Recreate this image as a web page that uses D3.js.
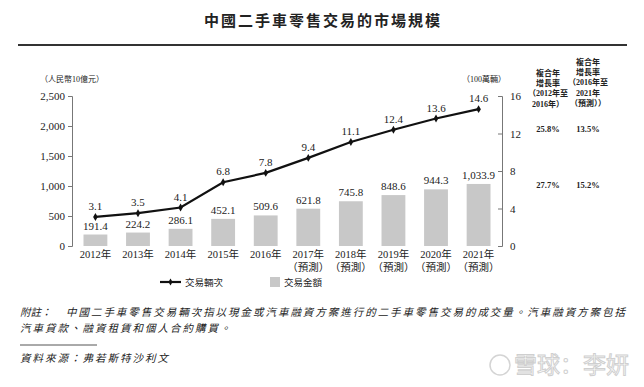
<!DOCTYPE html>
<html>
<head>
<meta charset="utf-8">
<script src="https://cdn.jsdelivr.net/npm/d3@7"></script>
<style>
  body { margin: 0; background: #fff; }
  svg text { font-family: "Liberation Serif", "Noto Sans CJK TC", serif; fill: #222; }
</style>
</head>
<body>
<svg id="chart" width="644" height="387"></svg>
<script>
// data
const years = ['2012年','2013年','2014年','2015年','2016年','2017年','2018年','2019年','2020年','2021年'];
const forecast = [false,false,false,false,false,true,true,true,true,true];
const amounts = [191.4,224.2,286.1,452.1,509.6,621.8,745.8,848.6,944.3,1033.9];
const volumes = [3.1,3.5,4.1,6.8,7.8,9.4,11.1,12.4,13.6,14.6];
const leftTicks = [0,500,1000,1500,2000,2500];
const rightTicks = [0,4,8,12,16];
const cagrHead1 = ['複合年','增長率','（2012年至','2016年）'];
const cagrHead2 = ['複合年','增長率','（2016年至','2021年','（預測））'];
const cagrVolume = ['25.8%','13.5%'];
const cagrAmount = ['27.7%','15.2%'];

const svg = d3.select('#chart');

// title + rule
svg.append('text')
  .attr('x', 323).attr('y', 26)
  .attr('text-anchor', 'middle')
  .style('font-family', '"Noto Sans CJK TC", serif')
  .style('font-size', '15px').style('font-weight', 'bold')
  .style('letter-spacing', '2px')
  .text('中國二手車零售交易的市場規模');
svg.append('line')
  .attr('x1', 18).attr('x2', 627).attr('y1', 45).attr('y2', 45)
  .attr('stroke', '#333').attr('stroke-width', 2);

// scales
const x = d3.scaleBand().domain(years).range([72, 502]).paddingInner(0.44).paddingOuter(0.27);
const yL = d3.scaleLinear().domain([0, 2500]).range([246, 96]);
const yR = d3.scaleLinear().domain([0, 16]).range([246, 96]);

// axes
const leftAxis = svg.append('g')
  .attr('transform', 'translate(72,0)')
  .call(d3.axisLeft(yL).tickValues(leftTicks).tickSize(4).tickPadding(3).tickFormat(d3.format(',')));
const rightAxis = svg.append('g')
  .attr('transform', 'translate(502,0)')
  .call(d3.axisRight(yR).tickValues(rightTicks).tickSize(-4).tickPadding(8));
[leftAxis, rightAxis].forEach(a => {
  a.select('.domain').attr('stroke', '#777');
  a.selectAll('.tick line').attr('stroke', '#777');
  a.selectAll('.tick text').style('font-size', '11px').attr('fill', '#222');
});

svg.append('text').attr('x', 40).attr('y', 82)
  .style('font-size', '8px').text('（人民幣10億元）');
svg.append('text').attr('x', 462).attr('y', 82)
  .style('font-size', '8px').text('（100萬輛）');

// bars
svg.append('g').selectAll('rect')
  .data(amounts).join('rect')
  .attr('x', (d, i) => x(years[i]))
  .attr('width', x.bandwidth())
  .attr('y', d => yL(d))
  .attr('height', d => yL(0) - yL(d))
  .attr('fill', '#c8c8c8');

svg.append('g').selectAll('text')
  .data(amounts).join('text')
  .attr('x', (d, i) => x(years[i]) + x.bandwidth() / 2)
  .attr('y', d => yL(d) - 5)
  .attr('text-anchor', 'middle')
  .style('font-size', '11px')
  .text(d => d3.format(',.1f')(d));

// line
const cx = i => x(years[i]) + x.bandwidth() / 2;
const line = d3.line().x((d, i) => cx(i)).y(d => yR(d));
svg.append('path')
  .datum(volumes)
  .attr('d', line)
  .attr('fill', 'none')
  .attr('stroke', '#111')
  .attr('stroke-width', 2.2);
svg.append('g').selectAll('path')
  .data(volumes).join('path')
  .attr('transform', (d, i) => `translate(${cx(i)},${yR(d)})`)
  .attr('d', d3.symbol(d3.symbolDiamond, 18))
  .attr('fill', '#111');
svg.append('g').selectAll('text')
  .data(volumes).join('text')
  .attr('x', (d, i) => cx(i))
  .attr('y', d => yR(d) - 7)
  .attr('text-anchor', 'middle')
  .style('font-size', '11px')
  .text(d => d3.format('.1f')(d));

// x labels
const xl = svg.append('g').selectAll('g')
  .data(years).join('g')
  .attr('transform', d => `translate(${x(d) + x.bandwidth() / 2},0)`);
xl.append('text').attr('y', 258).attr('text-anchor', 'middle')
  .style('font-size', '10.5px').text(d => d);
xl.filter((d, i) => forecast[i]).append('text')
  .attr('y', 271).attr('text-anchor', 'middle')
  .style('font-size', '10.5px').text('（預測）');

// legend
const lg = svg.append('g');
lg.append('line').attr('x1', 160).attr('x2', 181).attr('y1', 282).attr('y2', 282)
  .attr('stroke', '#111').attr('stroke-width', 2.2);
lg.append('path').attr('transform', 'translate(170.5,282)')
  .attr('d', d3.symbol(d3.symbolDiamond, 14)).attr('fill', '#111');
lg.append('text').attr('x', 185).attr('y', 285.5).style('font-size', '9.5px').text('交易輛次');
lg.append('rect').attr('x', 270).attr('y', 277).attr('width', 10).attr('height', 10).attr('fill', '#c8c8c8');
lg.append('text').attr('x', 284).attr('y', 285.5).style('font-size', '9.5px').text('交易金額');

// CAGR table
const cg = svg.append('g').style('font-size', '8px').style('font-weight', 'bold');
cg.selectAll('.h1').data(cagrHead1).join('text')
  .attr('x', 548).attr('y', (d, i) => 76 + i * 10.2)
  .attr('text-anchor', 'middle').text(d => d);
cg.selectAll('.h2').data(cagrHead2).join('text')
  .attr('x', 588).attr('y', (d, i) => 65 + i * 10.2)
  .attr('text-anchor', 'middle').text(d => d);
cg.selectAll('.v1').data(cagrVolume).join('text')
  .attr('x', (d, i) => i ? 588 : 548).attr('y', 132)
  .attr('text-anchor', 'middle').style('font-size', '8.5px').text(d => d);
cg.selectAll('.v2').data(cagrAmount).join('text')
  .attr('x', (d, i) => i ? 588 : 548).attr('y', 188)
  .attr('text-anchor', 'middle').style('font-size', '8.5px').text(d => d);

// notes
const nt = svg.append('g')
  .style('font-family', '"Noto Sans CJK TC", serif')
  .style('font-size', '10.5px').style('font-style', 'italic');
nt.append('text').attr('x', 20).attr('y', 316).text('附註：');
nt.append('text').attr('x', 66).attr('y', 316).attr('textLength', 559)
  .text('中國二手車零售交易輛次指以現金或汽車融資方案進行的二手車零售交易的成交量。汽車融資方案包括');
nt.append('text').attr('x', 20).attr('y', 332).style('letter-spacing', '2px')
  .text('汽車貸款、融資租賃和個人合約購買。');
svg.append('line').attr('x1', 20).attr('x2', 97).attr('y1', 345).attr('y2', 345)
  .attr('stroke', '#555').attr('stroke-width', 1);
nt.append('text').attr('x', 20).attr('y', 362).style('letter-spacing', '2px')
  .text('資料來源：弗若斯特沙利文');

// watermark (outlined, light)
const wm = svg.append('g');
wm.append('circle').attr('cx', 500).attr('cy', 365).attr('r', 10)
  .attr('fill', 'none').attr('stroke', '#d4d4d4').attr('stroke-width', 1.5);
wm.append('text').attr('x', 514).attr('y', 373)
  .style('font-family', '"Noto Sans CJK SC", sans-serif')
  .style('font-size', '23px')
  .style('fill', '#fff').style('stroke', '#cfcfcf').style('stroke-width', '1px')
  .text('雪球：李妍');
</script>
</body>
</html>
